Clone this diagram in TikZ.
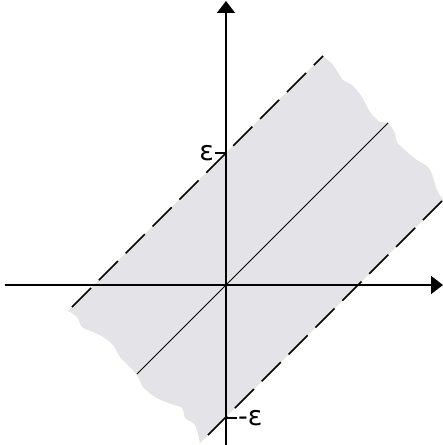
\documentclass[tikz,border=0pt]{standalone}
\usepackage{fontspec}
\setmainfont{DejaVu Sans}
\usepackage{tikz}
\usetikzlibrary{arrows.meta}
\usepackage{xcolor}
\definecolor{bandgray}{RGB}{228,228,232}

\begin{document}
\begin{tikzpicture}[x=1pt,y=1pt,>={Triangle[width=18pt,length=12pt]},font=\fontsize{27}{29}\selectfont]
\useasboundingbox (-226,-160) rectangle (217,285);
\begin{scope}
\clip (-226,-160) rectangle (217,285);
\fill[bandgray] (-158,-26) -- (97,229) -- plot[smooth] coordinates {(97,229) (107,220) (117,205) (126,200) (136,188) (144,173) (154,163) (162,162) (169,152) (171,143) (181,133) (191,125) (202,118) (207,108) (211,95) (217,85)} -- (-26,-158) -- plot[smooth] coordinates {(-26,-158) (-31,-140) (-41,-133) (-44,-123) (-58,-118) (-71,-112) (-83,-102) (-89,-90) (-96,-82) (-106,-72) (-113,-60) (-123,-52) (-133,-47) (-144,-42) (-149,-32) (-158,-26)} -- cycle;
\draw[line width=1.6pt,dash pattern=on 27pt off 11pt] (-154,-22) -- (97,229);
\draw[line width=1.6pt,dash pattern=on 27pt off 11pt] (-18,-150) -- (217,85);
\draw[line width=0.9pt] (-89,-89) -- (162,162);
\end{scope}
\draw[->,line width=1.6pt] (-221,0) -- (217,0);
\draw[->,line width=1.6pt] (0,-160) -- (0,284);
\draw[line width=1.2pt] (-11,132) -- (0,132) node[pos=0,left,inner sep=0.5pt] (eps) {ε};
\draw[line width=1.2pt] (0,-133) -- (11,-133) node[right,inner sep=0.5pt] (meps) {-ε};
\end{tikzpicture}
\end{document}
